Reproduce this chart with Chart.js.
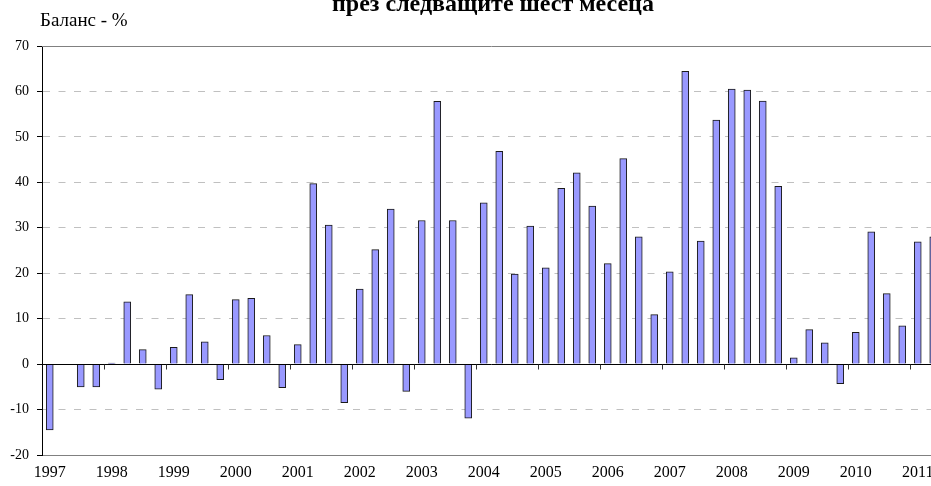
<!DOCTYPE html>
<html lang="bg">
<head>
<meta charset="utf-8">
<script src="https://cdn.jsdelivr.net/npm/chart.js@4.4.0/dist/chart.umd.min.js"></script>
<style>
    html, body { margin: 0; padding: 0; background: #fff; overflow: hidden; }
    #wrap { position: relative; width: 931px; height: 486px; overflow: hidden; }
    #grafico { position: absolute; left: 0; top: 0; }
    .titulo { position: absolute; top: -10px; left: 332px; font: bold 24px 'Liberation Serif', serif; white-space: nowrap; color: #000; }
    .eixo_y { position: absolute; top: 9px; left: 40px; font: 19px 'Liberation Serif', serif; white-space: nowrap; color: #000; }
</style>
</head>
<body>
<div id="wrap">
    <canvas id="grafico" width="960" height="486"></canvas>
    <div class="titulo">през следващите шест месеца</div>
    <div class="eixo_y">Баланс - %</div>
</div>
<script>
// --- Dados ---
const anos = ['1997', '1998', '1999', '2000', '2001', '2002', '2003', '2004',
              '2005', '2006', '2007', '2008', '2009', '2010', '2011'];
const trimestres = ['I', 'II', 'III', 'IV'];

// баланс по тримесечия, 1997 I .. 2011 II (1997 II липсва)
const valores = [
    -14.5, null, -5.0, -5.0,    // 1997
    0.2, 13.7, 3.2, -5.5,       // 1998
    3.7, 15.3, 4.9, -3.4,       // 1999
    14.2, 14.5, 6.3, -5.2,      // 2000
    4.3, 39.7, 30.6, -8.5,      // 2001
    16.5, 25.2, 34.1, -6.0,     // 2002
    31.6, 57.8, 31.6, -11.9,    // 2003
    35.5, 46.8, 19.8, 30.4,     // 2004
    21.2, 38.7, 42.1, 34.8,     // 2005
    22.1, 45.2, 28.0, 10.9,     // 2006
    20.3, 64.4, 27.1, 53.7,     // 2007
    60.5, 60.3, 57.9, 39.1,     // 2008
    1.4, 7.6, 4.7, -4.3,        // 2009
    7.0, 29.1, 15.5, 8.4,       // 2010
    26.9, 28.0                  // 2011
];

const yMin = -20;
const yMax = 70;
const yPasso = 10;

// categorias "1997 I", "1997 II", ...
const categorias = [];
anos.forEach(ano => trimestres.forEach(t => categorias.push(ano + ' ' + t)));
categorias.length = valores.length;

// --- Plugin: linha do zero, borda superior e marcas dos anos ---
const linhasExtras = {
    id: 'linhasExtras',
    afterDatasetsDraw(chart) {
        const { ctx, chartArea, scales: { x, y } } = chart;
        ctx.save();
        ctx.lineWidth = 1;

        const yTopo = Math.round(y.getPixelForValue(yMax)) + 0.5;
        ctx.strokeStyle = '#808080';
        ctx.beginPath();
        ctx.moveTo(chartArea.left, yTopo);
        ctx.lineTo(chartArea.right, yTopo);
        ctx.stroke();

        const yZero = Math.round(y.getPixelForValue(0)) + 0.5;
        ctx.strokeStyle = '#000';
        ctx.beginPath();
        ctx.moveTo(chartArea.left, yZero);
        ctx.lineTo(chartArea.right, yZero);
        ctx.stroke();

        ctx.strokeStyle = '#333';
        for (let i = 4; i < categorias.length; i += 4) {
            const px = Math.round((x.getPixelForValue(i - 1) + x.getPixelForValue(i)) / 2) + 0.5;
            ctx.beginPath();
            ctx.moveTo(px, yZero);
            ctx.lineTo(px, yZero + 5);
            ctx.stroke();
        }
        ctx.restore();
    }
};

// --- Configuração do Gráfico ---
const ctx = document.getElementById('grafico');
const meuGrafico = new Chart(ctx, {
    type: 'bar',
    data: {
        labels: categorias,
        datasets: [{
            data: valores,
            backgroundColor: '#9999FF',
            borderColor: '#1a1a1a',
            borderWidth: 1,
            barThickness: 7
        }]
    },
    options: {
        responsive: false,
        animation: false,
        layout: {
            padding: { top: 46, right: 19, left: 0, bottom: 0 }
        },
        plugins: {
            legend: { display: false },
            tooltip: { enabled: false }
        },
        scales: {
            x: {
                grid: { display: false, drawTicks: false },
                border: { display: true, color: '#808080', width: 1 },
                ticks: {
                    autoSkip: false,
                    maxRotation: 0,
                    minRotation: 0,
                    padding: 8,
                    color: '#000',
                    font: { family: 'Liberation Serif', size: 16 },
                    callback: (v, i) => (i % 4 === 0 ? anos[i / 4] : '')
                },
                afterFit: (s) => { s.height = 31; }
            },
            y: {
                min: yMin,
                max: yMax,
                ticks: {
                    stepSize: yPasso,
                    padding: 8,
                    color: '#000',
                    font: { family: 'Liberation Serif', size: 14 }
                },
                grid: {
                    color: (c) => (c.tick && [0, yMin, yMax].includes(c.tick.value)) ? 'rgba(0,0,0,0)' : '#c0c0c0',
                    tickColor: '#000',
                    tickLength: 5,
                    tickBorderDash: []
                },
                border: { display: true, color: '#000', width: 1, dash: [7, 8.5] },
                afterFit: (s) => { s.width = 42; }
            }
        }
    },
    plugins: [linhasExtras]
});
</script>
</body>
</html>
